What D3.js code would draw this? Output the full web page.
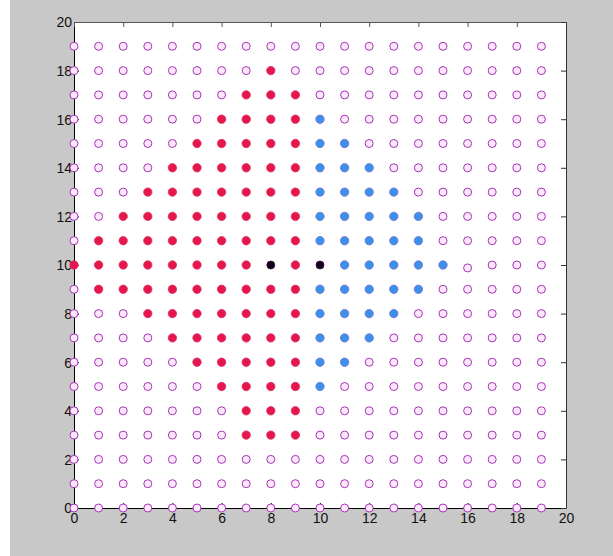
<!DOCTYPE html>
<html><head><meta charset="utf-8">
<script src="https://cdn.jsdelivr.net/npm/d3@7"></script>
<style>html,body{margin:0;padding:0;background:#c8c8c8;}svg{display:block;}</style>
</head><body>
<svg id="c" width="613" height="556"></svg>
<script>
// grid of candidate points
const gridX = [0,1,2,3,4,5,6,7,8,9,10,11,12,13,14,15,16,17,18,19];
const gridY = [0,1,2,3,4,5,6,7,8,9,10,11,12,13,14,15,16,17,18,19];
// red class: row y -> x values
const redRows = [
  [18,[8]],
  [17,[7,8,9]],
  [16,[6,7,8,9]],
  [15,[5,6,7,8,9]],
  [14,[4,5,6,7,8,9]],
  [13,[3,4,5,6,7,8,9]],
  [12,[2,3,4,5,6,7,8,9]],
  [11,[1,2,3,4,5,6,7,8,9]],
  [10,[0,1,2,3,4,5,6,7,9]],
  [9,[1,2,3,4,5,6,7,8,9]],
  [8,[3,4,5,6,7,8,9]],
  [7,[4,5,6,7,8,9]],
  [6,[5,6,7,8,9]],
  [5,[6,7,8,9]],
  [4,[7,8,9]],
  [3,[7,8,9]]
];
// blue class
const blueRows = [
  [16,[10]],
  [15,[10,11]],
  [14,[10,11,12]],
  [13,[10,11,12,13]],
  [12,[10,11,12,13,14]],
  [11,[10,11,12,13,14]],
  [10,[11,12,13,14,15]],
  [9,[10,11,12,13,14]],
  [8,[10,11,12,13]],
  [7,[10,11,12]],
  [6,[10,11]],
  [5,[10]]
];
// centres
const blackPts = [[8,10],[10,10]];
// slightly displaced open point
const shiftedOpen = [[16,10,16,9.88]];
const xTicks = [0,2,4,6,8,10,12,14,16,18,20];
const yTicks = [0,2,4,6,8,10,12,14,16,18,20];

const svg = d3.select("#c");
svg.append("rect").attr("x",0).attr("y",0).attr("width",10).attr("height",556).attr("fill","#ffffff");

const L=74, R=566, T=22, B=508;
const x = d3.scaleLinear().domain([0,20]).range([L,R]);
const y = d3.scaleLinear().domain([0,20]).range([B,T]);

svg.append("rect").attr("x",L).attr("y",T).attr("width",R-L).attr("height",B-T).attr("fill","#ffffff");

const font = "'Liberation Sans', Arial, sans-serif";
// axes
const gx = svg.append("g").attr("transform",`translate(0,${B})`)
  .call(d3.axisBottom(x).tickValues(xTicks).tickFormat(d3.format("d")).tickSizeInner(-5).tickSizeOuter(0).tickPadding(5));
const gy = svg.append("g").attr("transform",`translate(${L},0)`)
  .call(d3.axisLeft(y).tickValues(yTicks).tickFormat(d3.format("d")).tickSizeInner(-5).tickSizeOuter(0).tickPadding(2));
const gt = svg.append("g").attr("transform",`translate(0,${T})`)
  .call(d3.axisTop(x).tickValues(xTicks).tickFormat("").tickSizeInner(-5).tickSizeOuter(0));
const gr = svg.append("g").attr("transform",`translate(${R},0)`)
  .call(d3.axisRight(y).tickValues(yTicks).tickFormat("").tickSizeInner(-5).tickSizeOuter(0));
[gx,gy].forEach(g=>{
  g.selectAll("text").attr("font-family",font).attr("font-size",14).attr("fill","#111");
  g.selectAll("line").attr("stroke","#000");
  g.select(".domain").attr("stroke","#000");
});
gt.selectAll("line,path").attr("stroke","#555");
gr.selectAll("line,path").attr("stroke","#333");
gy.selectAll("text").attr("dy","0.35em");

// build point sets
const key = (a,b)=>a+","+b;
const filled = new Set();
const red=[], blue=[];
redRows.forEach(([yy,xs])=>xs.forEach(xx=>{red.push([xx,yy]);filled.add(key(xx,yy));}));
blueRows.forEach(([yy,xs])=>xs.forEach(xx=>{blue.push([xx,yy]);filled.add(key(xx,yy));}));
blackPts.forEach(p=>filled.add(key(p[0],p[1])));
const open=[];
gridY.forEach(yy=>gridX.forEach(xx=>{
  if(!filled.has(key(xx,yy))){
    const s = shiftedOpen.find(d=>d[0]===xx&&d[1]===yy);
    open.push(s?[s[2],s[3]]:[xx,yy]);
  }
}));

svg.append("g").selectAll("circle").data(open).join("circle")
  .attr("cx",d=>x(d[0])).attr("cy",d=>y(d[1])).attr("r",4)
  .attr("fill","#fbe8fb").attr("stroke","#a833b8").attr("stroke-width",1);
svg.append("g").selectAll("circle").data(red).join("circle")
  .attr("cx",d=>x(d[0])).attr("cy",d=>y(d[1])).attr("r",4.2)
  .attr("fill","#e5164b").attr("stroke","#e0306a").attr("stroke-width",0.8);
svg.append("g").selectAll("circle").data(blue).join("circle")
  .attr("cx",d=>x(d[0])).attr("cy",d=>y(d[1])).attr("r",4.2)
  .attr("fill","#3a91ea").attr("stroke","#7a6fd0").attr("stroke-width",0.8);
svg.append("g").selectAll("circle").data(blackPts).join("circle")
  .attr("cx",d=>x(d[0])).attr("cy",d=>y(d[1])).attr("r",4)
  .attr("fill","#12001a").attr("stroke","#3a1040").attr("stroke-width",0.8);
</script>
</body></html>
